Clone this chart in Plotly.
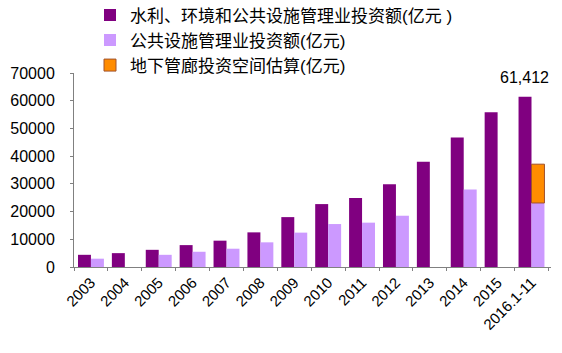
import plotly.graph_objects as go

years = ['2003', '2004', '2005', '2006', '2007', '2008', '2009', '2010',
         '2011', '2012', '2013', '2014', '2015', '2016.1-11']
total_invest = [4400, 5000, 6200, 7900, 9500, 12500, 18000, 22700,
                24900, 29900, 38000, 46700, 55800, 61412]
public_invest = [3000, None, 4400, 5500, 6600, 8900, 12400, 15500,
                 16000, 18500, None, 28000, None, 23100]
pipe_space = [None] * 13 + [14000]

names = ['水利、环境和公共设施管理业投资额(亿元 )',
         '公共设施管理业投资额(亿元)',
         '地下管廊投资空间估算(亿元)']

C_DARK = '#800080'
C_LIGHT = '#CC99FF'
C_ORANGE = '#FF8C00'

fig = go.Figure()
fig.add_trace(go.Bar(x=years, y=total_invest, name=names[0], offsetgroup='a',
                     marker=dict(color=C_DARK, line=dict(width=0))))
fig.add_trace(go.Bar(x=years, y=public_invest, name=names[1], offsetgroup='b',
                     marker=dict(color=C_LIGHT, line=dict(width=0))))
pipe_base = [p if s is not None else 0 for p, s in zip(public_invest, pipe_space)]
fig.add_trace(go.Bar(x=years, y=pipe_space, base=pipe_base, name=names[2], offsetgroup='b',
                     marker=dict(color=C_ORANGE, line=dict(width=1, color='#A0522D'))))

fig.add_annotation(x=years[-1], y=total_invest[-1], text=f'{total_invest[-1]:,}',
                   showarrow=False, xshift=-7, yshift=9, yanchor='bottom',
                   font=dict(size=16, color='#000000'))

font_family = 'Liberation Sans, Arial, Noto Sans CJK SC, sans-serif'

fig.update_layout(
    width=562, height=353,
    margin=dict(l=74, r=11, t=73, b=86, autoexpand=False),
    paper_bgcolor='white', plot_bgcolor='white',
    barmode='group', bargap=0.235, bargroupgap=0,
    font=dict(family=font_family, size=15, color='#000000'),
    showlegend=True,
    legend=dict(x=(90 - 74) / 477, y=1.39,
                xanchor='left', yanchor='top', bgcolor='rgba(0,0,0,0)',
                font=dict(size=17, family='Liberation Sans, Noto Sans CJK SC, sans-serif'),
                traceorder='normal', itemwidth=30, tracegroupgap=0),
)
fig.update_xaxes(type='category', showline=True, linecolor='#808080', linewidth=1,
                 ticks='outside', tickson='boundaries', ticklen=3, tickcolor='#808080',
                 tickangle=-45, tickfont=dict(size=15), showgrid=False)
fig.update_yaxes(range=[0, 70000], dtick=10000, showline=True, linecolor='#808080',
                 linewidth=1, ticks='outside', ticklen=3, tickcolor='#808080',
                 showgrid=False, zeroline=False, tickfont=dict(size=16),
                 ticklabelstandoff=12, tickformat='d')

fig.write_html('out.html')
